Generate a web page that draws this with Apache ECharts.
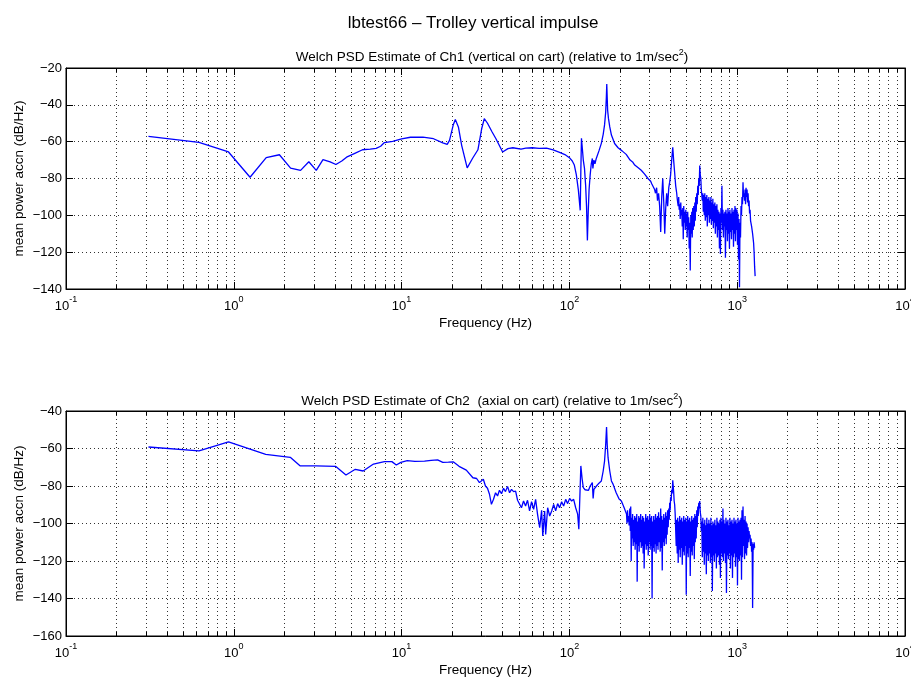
<!DOCTYPE html>
<html><head><meta charset="utf-8">
<script src="https://cdn.jsdelivr.net/npm/echarts@6/dist/echarts.min.js"></script>
<style>html,body{margin:0;padding:0;background:#fff}#c{width:911px;height:684px}</style>
</head><body><div id="c"></div>
<script>
// ---------- data ----------
const freq1 = [0.31,0.62,0.93,1.25,1.56,1.87,2.18,2.5,2.8,3.1,3.4,3.75,4.06,4.4,4.7,5.3,5.85,6.5,7.05,7.5,
7.9,8.85,10,11.3,13.4,15.5,17.6,18.7,19.3,20.3,20.9,21.8,22.8,24.6,26.5,28.5,30,31.1,32.5,34.5,
36.5,40,43,46,51.5,55,60,66,73,80,87.4,94,100,104,107,110,113,116,117,118,
119.5,121,123,125,126.5,128,129.5,131,133,135,137,138,140,142,144.6,150,155,159,162,164.5,
166,167,168,169,171,174,178,186,195,206,218,230,238,245,256,268,275,280,287,294,
300,305,310,315,318,
322,326,331,335,340,345,350,355,360,365,370,375,380,385,391,396,401,407,413,418,424,
430,433,436,439,442,445,448,451,454,457.5,461,464,467,470.5,474,477,480,483.5,487,490.5,
494,497,500,503.5,507,510.5,514,517.5,521,525,529,532.5,536,539.5,543,547,551,555,559,562.5,
566,570,574,578,582,586,590,594,598,602.5,607,611,615,619.5,624,628,632,636.5,641,645.5,
650,654.5,659,663.5,668,673,678,682.5,687,692,697,701.5,706,711,716,721,726,731,736,741,
746,751.5,757,762,767,772.5,778,783.5,789,794.5,800,805.5,811,816.5,822,827.5,833,839,845,851,
857,863,869,875,881,887,893,899,905,911.5,918,924.5,931,937.5,944,950.5,957,963.5,970,976.5,
983,990,997,1004,1011,1018,1025,1032,1039,1046.5,1054,1061,1068,1075.5,1083,1090.5,1098,1106,1114,1121.5,
1129,1137,1145,1153,1161,1169,1177,1185,1193,1201.5,1210,1218.5,1227,1235.5,1244,1252.5,1261,1270,1279];
const psd1 = [-57.1,-60.4,-65.6,-79.3,-68.7,-67.1,-74.4,-75.6,-70.9,-75.6,-69.8,-71,-72.4,-70.5,-68.4,-66.2,-64.4,-64,-63.6,-62.5,
-60.5,-59.8,-58.5,-57.6,-57.5,-58.4,-60.7,-61.5,-59.3,-51,-48,-52,-62,-74.2,-69,-64.4,-53,-47.5,-50,-54.5,
-58.4,-65.6,-63.8,-63.3,-64,-63.5,-63.3,-63.6,-63.5,-64.5,-65.8,-67,-68.7,-70.5,-72.7,-78,-86,-97.3,-76,-58.2,
-64,-70,-74.5,-84,-95,-113.6,-98,-86,-78,-72,-69.1,-74.5,-70,-72,-69.1,-65,-60.9,-56,-50.9,-44,
-36,-28.7,-36,-43,-47.5,-52,-56.4,-61,-63.3,-65,-66.9,-70,-71,-72.7,-74,-75.5,-76.5,-77.5,-78,-80,
-81,-81.5,-83,-83.6,-82.5,
-86,-88,-85,-92,-88,-95,-109,-90,-80,-93,-110,-96,-88,-95,-85,-82,-78,-70,-63,-70,-77,
-84,-86,-88,-91,-92,-95,-90,-97,-94,-102,-93,-100,-97,-106,-96,-113,-95,-104,-98,-108,
-97,-106,-99,-112,-98,-108,-101,-118,-104,-130,-100,-110,-98,-112,-96,-108,-95,-106,-93,-103,
-90,-98,-88,-94,-84,-89,-80,-84,-73,-78,-80,-86,-86,-92,-88,-98,-89,-100,-88,-103,
-90,-101,-89,-106,-91,-100,-90,-104,-92,-102,-90,-105,-93,-103,-91,-107,-94,-104,-93,-110,
-95,-106,-94,-112,-97,-108,-98,-118,-99,-121,-96,-104,-84,-108,-97,-112,-99,-106,-98,-123,
-97,-108,-99,-114,-96,-110,-98,-118,-97,-109,-99,-113,-96,-108,-98,-117,-97,-110,-95,-114,
-96,-108,-97,-116,-99,-124,-102,-139,-104,-112,-95,-100,-90,-94,-82,-90,-88,-92,-86,-94,
-85,-90,-86,-93,-88,-95,-92,-99,-97,-103,-102,-106,-105,-110,-110,-115,-120,-128,-133];

const freq2 = [0.31,0.62,0.93,1.55,2.17,2.48,3.1,4.04,4.66,5.3,5.9,6.8,7.9,8.75,9.3,9.9,10.8,12,13.7,15,
16.4,17.6,19,20.4,22,24.3,26.6,28,29.1,29.9,30.7,31.6,32.5,33.4,34.3,35.3,36.3,37.3,38.3,39.4,
40.5,41.6,42.8,44,45.2,46.5,47.8,49.1,50.4,51.8,53.3,54.8,56.3,57.9,59.5,61.2,62.9,64.6,66.5,68.3,
69.4,71.2,72.2,74.2,76.3,78.4,80.6,82.8,85.1,87.4,89.9,92.4,95,97.6,100.3,103.1,106,109,112,113.8,
117,119,121,124,127,130,133,137,138.5,140,145,150,155,159,162,164.5,166.5,168,170,174,
178,182,186,190,194,198,204,208,212,216,
219,220.5,222,223.5,225,227,229,230.5,232,233.5,235,236.5,238,240,242,243.5,245,246.5,248,250,
252,253.5,255,257,259,260.5,262,264,266,268,270,271.5,273,275,277,279,281,283,285,287,
289,291,293,295,297,299,301,303,305,307,309,311,313,315.5,318,320,322,324,326,328.5,
331,333,335,337.5,340,342.5,345,347.5,350,352.5,355,357.5,360,362.5,365,367.5,370,372.5,375,377.5,
380,382.5,385,388,391,393.5,396,398.5,401,404,407,410,413,415.5,418,421,424,427,430,433,
436,439,442,445,448,451,454,457.5,461,464,467,470.5,474,477,480,483.5,487,490.5,494,497,
500,503.5,507,510.5,514,517.5,521,525,529,532.5,536,539.5,543,547,551,555,559,562.5,566,570,
574,578,582,586,590,594,598,602.5,607,611,615,619.5,624,628,632,636.5,641,645.5,650,654.5,
659,663.5,668,673,678,682.5,687,692,697,701.5,706,711,716,721,726,731,736,741,746,751.5,
757,762,767,772.5,778,783.5,789,794.5,800,805.5,811,816.5,822,827.5,833,839,845,851,857,863,
869,875,881,887,893,899,905,911.5,918,924.5,931,937.5,944,950.5,957,963.5,970,976.5,983,990,
997,1004,1011,1018,1025,1032,1039,1046.5,1054,1061,1068,1075.5,1083,1090.5,1098,1106,1114,1121.5,1129,1137,
1145,1153,1161,1169,1177,1185,1193,1201.5,1210,1218.5,1227,1235.5,1244,1252.5,1261,1270,1279];
const psd2 = [-59.2,-61.3,-56.5,-63.1,-64.7,-69.2,-69.3,-69.5,-74.1,-71.1,-72,-68.3,-67,-67,-68.8,-67.4,-66.5,-66.9,-66.7,-66.3,
-66.1,-67.4,-67.3,-67.2,-69.5,-71.5,-75.6,-76,-78.2,-77.3,-76.4,-80,-81.2,-84.4,-89.8,-87.1,-83.6,-85.3,-82.3,-84.1,
-81.2,-83,-80.2,-83.6,-81.8,-83,-82.7,-87.6,-87.1,-91.6,-88,-90.7,-87.6,-93.3,-88.4,-92.4,-87.1,-95.1,-102.2,-93,
-106.7,-93.3,-105.8,-91.6,-96,-93.3,-89.8,-93.3,-89.4,-91.6,-88.4,-90.7,-87.1,-89.4,-86.6,-88,-87.1,-91.6,-95,-103.1,
-69.3,-76,-80.9,-82,-81,-82.3,-80,-78.2,-86.6,-81.8,-80,-78.5,-77.3,-72,-66.7,-58,-48.5,-58,-64.9,-72,
-77.3,-79,-80,-83.6,-85.3,-87,-88,-89.8,-91.6,-92,
-95,-100,-93,-99,-96,-101,-92,-104,-91,-120,-97,-108,-95,-112,-98,-110,-96,-114,-97,-111,
-95,-131,-99,-112,-96,-115,-97,-110,-95,-113,-98,-112,-96,-116,-97,-124,-99,-111,-95,-114,
-97,-112,-96,-117,-98,-110,-95,-114,-97,-112,-96,-140,-99,-113,-96,-115,-98,-111,-95,-116,
-97,-112,-96,-114,-94,-110,-97,-115,-92,-113,-96,-125,-98,-110,-95,-112,-97,-108,-94,-111,
-96,-106,-93,-102,-92,-98,-89,-93,-86,-88,-82,-84,-77,-80,-83,-88,-90,-95,-96,-112,
-98,-116,-97,-121,-99,-114,-96,-118,-98,-113,-97,-122,-99,-115,-96,-117,-98,-112,-97,-138,
-99,-116,-96,-118,-98,-113,-97,-128,-99,-115,-96,-117,-98,-112,-97,-119,-95,-110,-96,-108,
-93,-102,-91,-96,-89,-92,-88,-94,-96,-104,-99,-118,-97,-115,-100,-122,-98,-116,-101,-127,
-97,-117,-100,-120,-98,-116,-100,-121,-97,-118,-101,-136,-99,-117,-100,-120,-98,-116,-101,-124,
-97,-118,-99,-117,-100,-122,-98,-129,-97,-116,-99,-118,-92,-120,-98,-116,-100,-121,-97,-137,
-99,-117,-98,-119,-101,-116,-97,-124,-99,-117,-98,-129,-100,-118,-97,-116,-99,-123,-98,-118,
-100,-133,-97,-119,-99,-120,-98,-117,-97,-130,-93,-118,-91,-112,-98,-119,-96,-116,-99,-117,
-100,-113,-102,-110,-104,-108,-106,-112,-108,-115,-110,-145,-111,-114,-110,-113,-113];

// axis tick values
const xMajorTicks = [0.1,1,10,100,1000,10000];
const xMinorTicks = [0.2,0.3,0.4,0.5,0.6,0.7,0.8,0.9,2,3,4,5,6,7,8,9,20,30,40,50,60,70,80,90,
200,300,400,500,600,700,800,900,2000,3000,4000,5000,6000,7000,8000,9000];
const yRange1 = [-140,-20];
const yRange2 = [-160,-40];

const titleText = 'lbtest66 \u2013 Trolley vertical impulse';
const sub1 = 'Welch PSD Estimate of Ch1 (vertical on cart) (relative to 1m/sec{s|2})';
const sub2 = 'Welch PSD Estimate of Ch2  (axial on cart) (relative to 1m/sec{s|2})';
const xName = 'Frequency (Hz)';
const yName = 'mean power accn (dB/Hz)';

// ---------- chart ----------
const font = "'Liberation Sans', Arial, Helvetica, sans-serif";
const chart = echarts.init(document.getElementById('c'), null, {renderer: 'canvas'});

const grids = [
  {left: 66, top: 68, width: 839, height: 221},
  {left: 66, top: 411, width: 839, height: 225}
];

const supRich = {
  b: {fontSize: 13, lineHeight: 22, fontFamily: font, color: '#000'},
  s: {fontSize: 9, lineHeight: 9, verticalAlign: 'top', fontFamily: font, color: '#000'}
};
function xLabel(v) {
  const e = Math.round(Math.log10(v));
  return '{b|10}{s|' + e + '}';
}
function yLabel(v) { return v < 0 ? '\u2212' + (-v) : String(v); }

const dotted = {color: '#333', width: 1, type: [1, 3]};

function xAxes(gi) {
  return [
    {type: 'log', logBase: 10, gridIndex: gi, min: xMajorTicks[0], max: xMajorTicks[xMajorTicks.length-1], position: 'bottom',
     axisLine: {show: true, onZero: false, lineStyle: {color: '#000', width: 1}},
     axisTick: {show: true, inside: true, length: 7, lineStyle: {color: '#000'}},
     axisLabel: {show: true, margin: 6, formatter: xLabel, rich: supRich, color: '#000', hideOverlap: false},
     splitLine: {show: true, lineStyle: dotted},
     name: xName, nameLocation: 'middle', nameGap: 27,
     nameTextStyle: {fontSize: 13.5, fontFamily: font, color: '#000'}},
    {type: 'log', logBase: 10, gridIndex: gi, min: xMajorTicks[0], max: xMajorTicks[xMajorTicks.length-1], position: 'top',
     axisLine: {show: true, onZero: false, lineStyle: {color: '#000', width: 1}},
     axisTick: {show: true, inside: true, length: 7, lineStyle: {color: '#000'}},
     axisLabel: {show: false}, splitLine: {show: false}}
  ];
}
function yAxes(gi, r) {
  return [
    {type: 'value', gridIndex: gi, min: r[0], max: r[1], interval: 20, position: 'left',
     axisLine: {show: true, onZero: false, lineStyle: {color: '#000', width: 1}},
     axisTick: {show: true, inside: true, length: 7, lineStyle: {color: '#000'}},
     axisLabel: {show: true, margin: 4, formatter: yLabel, fontSize: 13, fontFamily: font, color: '#000'},
     splitLine: {show: true, lineStyle: dotted},
     name: yName, nameLocation: 'middle', nameGap: 40, nameRotate: 90, nameMoveOverlap: false,
     nameTextStyle: {fontSize: 13.5, fontFamily: font, color: '#000'}},
    {type: 'value', gridIndex: gi, min: r[0], max: r[1], interval: 20, position: 'right',
     axisLine: {show: true, onZero: false, lineStyle: {color: '#000', width: 1}},
     axisTick: {show: true, inside: true, length: 7, lineStyle: {color: '#000'}},
     axisLabel: {show: false}, splitLine: {show: false}}
  ];
}

function marks(r, hPx) {
  const len = 4 * (r[1] - r[0]) / hPx;
  const data = [];
  xMinorTicks.forEach(v => {
    data.push({xAxis: v, lineStyle: dotted});
    data.push([{coord: [v, r[0]]}, {coord: [v, r[0] + len]}]);
    data.push([{coord: [v, r[1]]}, {coord: [v, r[1] - len]}]);
  });
  return {silent: true, symbol: ['none', 'none'], label: {show: false}, z: 1, animation: false,
          emphasis: {disabled: true}, lineStyle: {color: '#000', width: 1, type: 'solid'}, data};
}

const titleStyle = (size) => ({fontSize: size, fontWeight: 'normal', fontFamily: font, color: '#000', lineHeight: 18,
  rich: {s: {fontSize: 9, lineHeight: 9, verticalAlign: 'top', fontFamily: font, color: '#000'}}});

const option = {
  animation: false,
  backgroundColor: '#fff',
  title: [
    {text: titleText, left: 468, top: 9, textAlign: 'center', textStyle: titleStyle(17)},
    {text: sub1, left: 487, top: 43, textAlign: 'center', textStyle: titleStyle(13.5)},
    {text: sub2, left: 487, top: 387, textAlign: 'center', textStyle: titleStyle(13.5)}
  ],
  grid: grids.map(g => Object.assign({show: true, borderColor: '#000', borderWidth: 1, backgroundColor: 'transparent',
                                       containLabel: false, outerBoundsMode: 'none'}, g)),
  xAxis: [...xAxes(0), ...xAxes(1)],
  yAxis: [...yAxes(0, yRange1), ...yAxes(1, yRange2)],
  series: [
    {type: 'line', xAxisIndex: 0, yAxisIndex: 0, data: freq1.map((f, i) => [f, psd1[i]]),
     symbol: 'none', showSymbol: false, z: 3,
     lineStyle: {color: '#0000ff', width: 1.3}, itemStyle: {color: '#0000ff'},
     markLine: marks(yRange1, grids[0].height)},
    {type: 'line', xAxisIndex: 2, yAxisIndex: 2, data: freq2.map((f, i) => [f, psd2[i]]),
     symbol: 'none', showSymbol: false, z: 3,
     lineStyle: {color: '#0000ff', width: 1.3}, itemStyle: {color: '#0000ff'},
     markLine: marks(yRange2, grids[1].height)}
  ]
};
chart.setOption(option);
</script></body></html>
